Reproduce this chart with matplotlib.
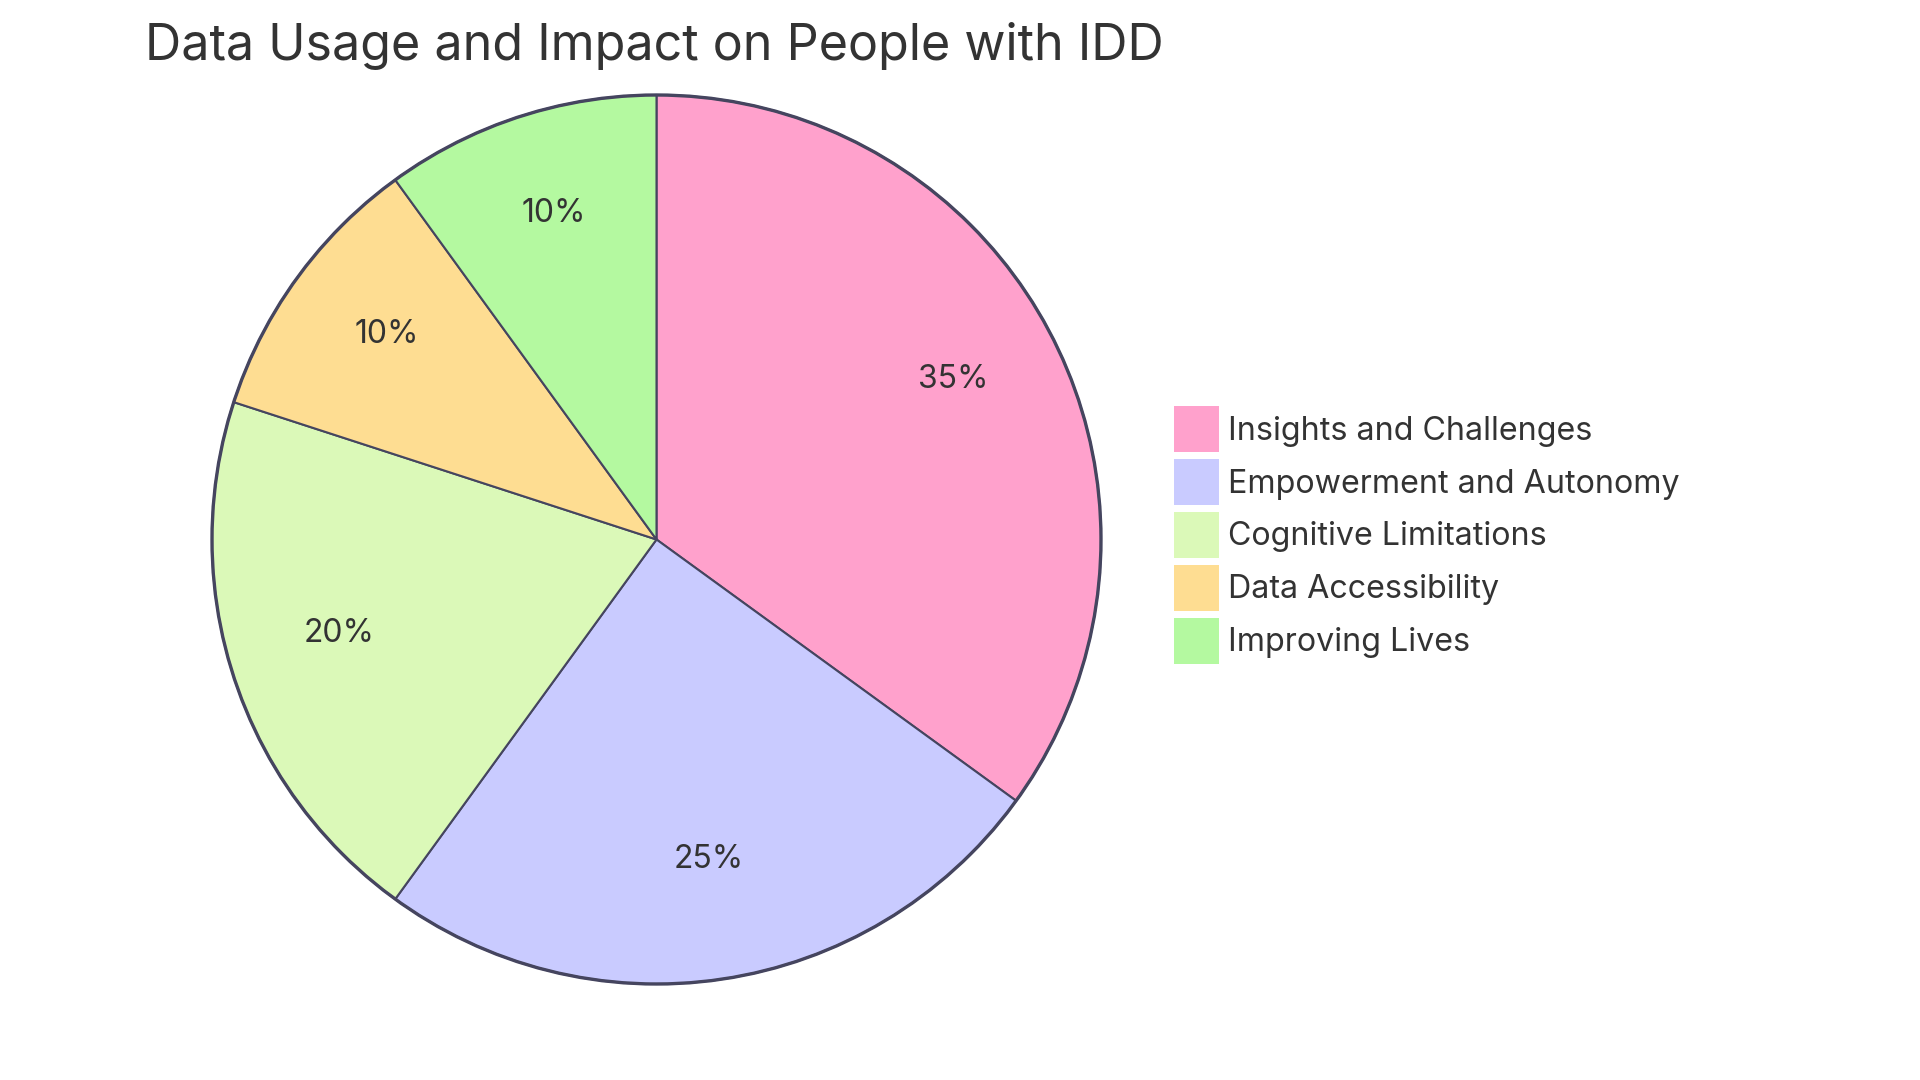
import matplotlib
matplotlib.use("Agg")
import matplotlib.pyplot as plt
from matplotlib.patches import Circle, Patch

categories = ["Insights and Challenges", "Empowerment and Autonomy", "Cognitive Limitations",
              "Data Accessibility", "Improving Lives"]
values = [35, 25, 20, 10, 10]
colors = ["#FFA1CC", "#C9CBFF", "#DBF9B8", "#FEDD92", "#B4F9A0"]
title = "Data Usage and Impact on People with IDD"

W, H = 1920, 1080
EDGE = "#45455F"
TEXT = "#333333"
plt.rcParams["font.family"] = ["Inter", "DejaVu Sans"]

# pie box in pixels
cx, cy, r = 656.5, 539.5, 444.5

fig = plt.figure(figsize=(W / 100, H / 100), dpi=100)
ax = fig.add_axes([(cx - r) / W, 1 - (cy + r) / H, 2 * r / W, 2 * r / H])

wedges, texts, pcts = ax.pie(values, colors=colors, startangle=90, counterclock=False,
                             autopct="%.0f%%", pctdistance=0.75, radius=1,
                             wedgeprops={"edgecolor": EDGE, "linewidth": 1.5, "clip_on": False},
                             textprops={"fontsize": 23, "color": TEXT})
ax.set_xlim(-1, 1)
ax.set_ylim(-1, 1)
ax.add_patch(Circle((0, 0), 1, fill=False, edgecolor=EDGE, linewidth=2.4, clip_on=False))

# labels sit a little above the slice's radial midpoint
for t in pcts:
    x, y = t.get_position()
    t.set_position((x, y + 0.02))

fig.text(145 / W, 1 - 60.5 / H, title, fontsize=36.2, color=TEXT, va="baseline")

# legend
fs = 23.2
fpx = fs * 100 / 72
handles = [Patch(facecolor=c, edgecolor="none") for c in colors]
fig.legend(handles, categories, loc="upper left", bbox_to_anchor=(1173.7 / W, 1 - 406.5 / H),
           bbox_transform=fig.transFigure, frameon=False, labelcolor=TEXT,
           borderpad=0, borderaxespad=0,
           handlelength=45.6 / fpx, handleheight=(45.6 / fpx - 0.245) / 0.65,
           labelspacing=(52.9 - 45.6) / fpx, handletextpad=9 / fpx,
           prop={"size": fs})

fig.savefig("out.png", dpi=100, facecolor="white")
